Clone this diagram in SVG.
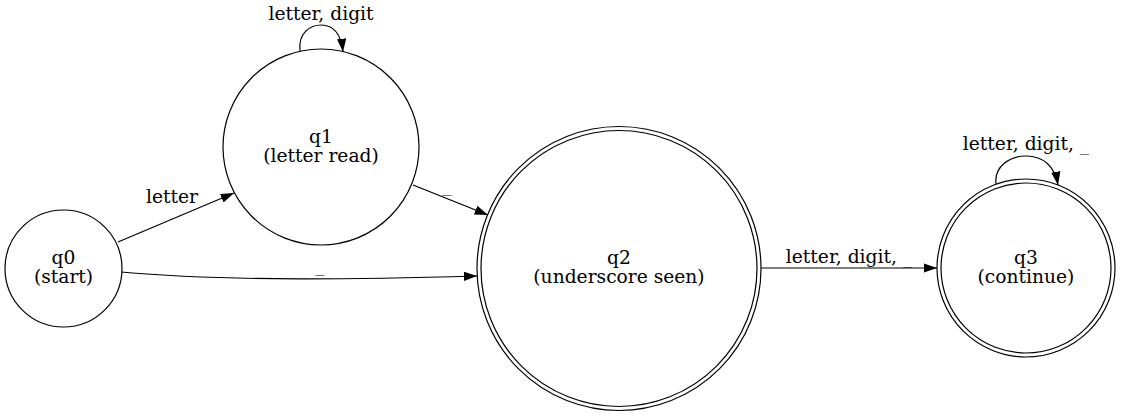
<svg xmlns="http://www.w3.org/2000/svg" width="1122" height="416" viewBox="0 0 1122 416">
<style>
.n{fill:#fff;stroke:#000;stroke-width:1.2}
.e{fill:none;stroke:#000;stroke-width:1.2}
text{font-family:"DejaVu Serif","Liberation Serif",serif;font-size:18.67px;fill:#000;text-anchor:middle}
</style>
<defs>
<marker id="ah" viewBox="0 0 13.3 9.3" refX="13.3" refY="4.65" markerWidth="13.3" markerHeight="9.3" markerUnits="userSpaceOnUse" orient="auto">
<path d="M0,0 L13.3,4.65 L0,9.3 z" fill="#000"/>
</marker>
</defs>
<rect width="1122" height="416" fill="#fff"/>
<g id="connectors">
<path class="e" d="M118,242 L234,193" marker-end="url(#ah)"/>
<text x="172" y="203">letter</text>
<path class="e" d="M121,272 C230,282 370,279 477,276" marker-end="url(#ah)"/>
<text x="320" y="271">_</text>
<path class="e" d="M413,185 L488,215" marker-end="url(#ah)"/>
<text x="447" y="191">_</text>
<path class="e" d="M761,268 L937,268" marker-end="url(#ah)"/>
<text x="849" y="263">letter, digit, _</text>
<path class="e" d="M300,51 C298,32 311,25 321,25 C333,25 341,33 343,52" marker-end="url(#ah)"/>
<text x="321" y="20">letter, digit</text>
<path class="e" d="M996,184 C994,166 1010,156 1026,156 C1044,156 1055,167 1058,185" marker-end="url(#ah)"/>
<text x="1026" y="150">letter, digit, _</text>
</g>
<g id="q0">
<circle class="n" cx="63.5" cy="268.5" r="58.5"/>
<text x="63.5" y="264">q0</text>
<text x="63.5" y="283">(start)</text>
</g>
<g id="q1">
<circle class="n" cx="321" cy="147" r="98"/>
<text x="321" y="142.5">q1</text>
<text x="321" y="161.5">(letter read)</text>
</g>
<g id="q2">
<circle class="n" cx="619" cy="268.5" r="142"/>
<circle class="n" cx="619" cy="268.5" r="138"/>
<text x="619" y="264">q2</text>
<text x="619" y="283">(underscore seen)</text>
</g>
<g id="q3">
<circle class="n" cx="1026" cy="268" r="89"/>
<circle class="n" cx="1026" cy="268" r="85"/>
<text x="1026" y="264">q3</text>
<text x="1026" y="283">(continue)</text>
</g>
</svg>
